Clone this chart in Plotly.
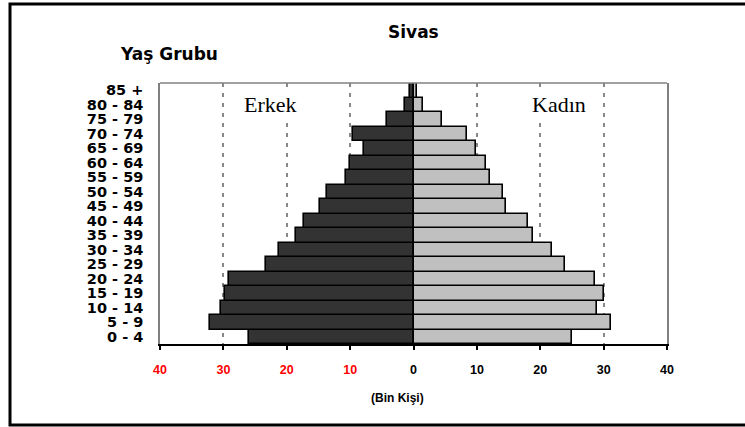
import plotly.graph_objects as go

categories = ["0 - 4", "5 - 9", "10 - 14", "15 - 19", "20 - 24", "25 - 29", "30 - 34",
              "35 - 39", "40 - 44", "45 - 49", "50 - 54", "55 - 59", "60 - 64",
              "65 - 69", "70 - 74", "75 - 79", "80 - 84", "85 +"]
erkek = [25.9, 32.1, 30.3, 29.7, 29.1, 23.3, 21.2, 18.6, 17.3, 14.8, 13.6, 10.7, 10.0,
         7.8, 9.5, 4.2, 1.4, 0.6]
kadin = [25.0, 31.2, 29.0, 30.0, 28.7, 23.9, 21.8, 18.9, 18.0, 14.6, 14.1, 12.0, 11.4,
         9.8, 8.5, 4.5, 1.5, 0.6]
tick_vals = [-40, -30, -20, -10, 0, 10, 20, 30, 40]
tick_text = ['<span style="color:#FF0000">40</span>', '<span style="color:#FF0000">30</span>',
             '<span style="color:#FF0000">20</span>', '<span style="color:#FF0000">10</span>',
             "0", "10", "20", "30", "40"]

W, H = 745, 427
L, R, T, B = 160, 78, 83, 83
PW, PH = W - L - R, H - T - B


def px(x):
    return (x - L) / PW


def py(y):
    return (H - B - y) / PH


fig = go.Figure()
fig.add_trace(go.Bar(
    y=categories, x=[-v for v in erkek], orientation="h", name="Erkek",
    marker=dict(color="#333333", line=dict(color="#000000", width=1.6)),
))
fig.add_trace(go.Bar(
    y=categories, x=kadin, orientation="h", name="Kadın",
    marker=dict(color="#C0C0C0", line=dict(color="#000000", width=1.6)),
))

fig.update_layout(
    width=W, height=H,
    margin=dict(l=L, r=R, t=T, b=B),
    paper_bgcolor="white", plot_bgcolor="white",
    barmode="overlay", bargap=0, showlegend=False,
    font=dict(family="Liberation Sans, Arial", color="black"),
)
fig.update_xaxes(
    range=[-40, 40], tickvals=tick_vals, ticktext=tick_text,
    tickfont=dict(family="Liberation Sans, Arial", size=12.5, color="black", weight="bold"),
    showline=True, linecolor="black", linewidth=2,
    ticks="outside", ticklen=4, tickwidth=1.5, tickcolor="black",
    ticklabelstandoff=9,
    showgrid=True, gridcolor="#888888", gridwidth=1.6, griddash="4px,6px",
    zeroline=False, fixedrange=True,
)
fig.update_yaxes(
    categoryorder="array", categoryarray=categories,
    tickmode="array", tickvals=categories, ticktext=categories,
    tickfont=dict(family="DejaVu Sans", size=14.5, color="black", weight="bold"),
    showline=True, mirror=True, linecolor="#808080", linewidth=1.5,
    ticks="", ticklabelstandoff=12,
    showgrid=False, zeroline=False, fixedrange=True,
)

shapes = [
    dict(type="line", xref="paper", yref="paper", x0=0, x1=1, y0=1, y1=1,
         line=dict(color="#808080", width=1.5)),
    dict(type="rect", xref="x", yref="paper", x0=18.5, x1=31.5, y0=py(120), y1=0.995,
         fillcolor="white", line=dict(width=0), layer="between"),
    dict(type="rect", xref="paper", yref="paper",
         x0=px(10), x1=px(770), y0=py(425), y1=py(4),
         line=dict(color="black", width=3), fillcolor="rgba(0,0,0,0)"),
]
fig.update_layout(shapes=shapes)

annotations = [
    dict(text="<b>Sivas</b>", x=px(413), y=py(32.5), xref="paper", yref="paper",
         showarrow=False, xanchor="center", yanchor="middle",
         font=dict(family="DejaVu Sans", size=17, color="black")),
    dict(text="<b>Yaş Grubu</b>", x=px(168.5), y=py(54), xref="paper", yref="paper",
         showarrow=False, xanchor="center", yanchor="middle",
         font=dict(family="DejaVu Sans", size=17, color="black")),
    dict(text="<b>(Bin Kişi)</b>", x=px(397.5), y=py(398), xref="paper", yref="paper",
         showarrow=False, xanchor="center", yanchor="middle",
         font=dict(family="Liberation Sans, Arial", size=12, color="black")),
    dict(text="Erkek", x=px(270.5), y=py(104), xref="paper", yref="paper",
         showarrow=False, xanchor="center", yanchor="middle", bgcolor="white",
         font=dict(family="Liberation Serif, Times New Roman", size=22, color="black")),
    dict(text="Kadın", x=px(559), y=py(104), xref="paper", yref="paper",
         showarrow=False, xanchor="center", yanchor="middle", bgcolor="white",
         font=dict(family="Liberation Serif, Times New Roman", size=22, color="black")),
]
fig.update_layout(annotations=annotations)

fig.write_html("out.html", config={"displayModeBar": False},
               post_script="document.body.style.margin='0';document.body.style.padding='0';"
                           "document.body.style.overflow='hidden';")
